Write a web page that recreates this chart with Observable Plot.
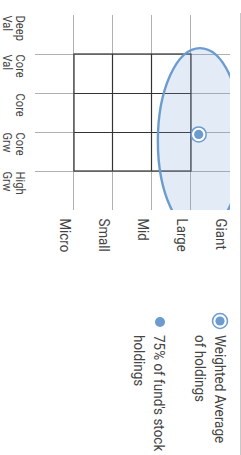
<!DOCTYPE html>
<html>
<head>
<meta charset="utf-8">
<script src="https://cdn.jsdelivr.net/npm/d3@7"></script>
<script src="https://cdn.jsdelivr.net/npm/@observablehq/plot@0.6"></script>
<style>
  html, body { margin: 0; padding: 0; background: #fff; }
  #page { position: relative; width: 241px; height: 455px; overflow: hidden; }
  #rot { position: absolute; left: 0; top: 0; width: 455px; height: 241px;
         transform-origin: 0 0; transform: translate(241px, 0) rotate(90deg);
         font-family: Roboto, sans-serif; color: #444; }
  #topline { position: absolute; left: 13px; top: 0; width: 442px; height: 1px; background: #c8c8c8; }
  #chart { position: absolute; left: 0; top: 0; }
  .item { position: absolute; left: 312px; width: 140px; }
  .item svg { position: absolute; left: 0; top: 0; overflow: visible; }
  .item .lbl { position: absolute; left: 23px; top: 0; font-size: 15.5px; line-height: 20px; white-space: pre; color: #444;
               transform-origin: 0 0; transform: scale(0.87, 1); }
</style>
</head>
<body>
<div id="page"><div id="rot"><div id="topline"></div><div id="chart"></div><div id="legend"></div></div></div>
<script>
// Style-box axes
const styleCols = ["Deep\nVal", "Core\nVal", "Core", "Core\nGrw", "High\nGrw"];
const styleColStarts = [-100, 0, 100, 200, 300];
const sizeRows = ["Giant", "Large", "Mid", "Small", "Micro"];
const sizeRowLines = [400, 300, 200, 100, 0];
const gridLines = [0, 100, 200, 300];
const innerLines = [100, 200];
const boxRange = [0, 300];
const scoreDomain = [-100, 400];

// Fund values
const weightedAvg = [{style: 205, size: 321}];
const holdingsZone = [{style: 223, size: 323, styleRadius: 238, sizeRadius: 108}];

// Legend
const legendLabels = ["Weighted Average\nof holdings", "75% of fund's stock\nholdings"];

const blue = "#6c9bd0";
const colLabel = new Map(styleColStarts.map((d, i) => [d, styleCols[i]]));
const rowLabel = new Map(sizeRowLines.map((d, i) => [d, sizeRows[i]]));

function zoneMark(index, scales, values, dims) {
  const {x, y} = scales;
  const g = d3.create("svg:g");
  const id = "zone-clip";
  g.append("clipPath").attr("id", id).append("rect")
    .attr("x", dims.marginLeft).attr("y", dims.marginTop)
    .attr("width", dims.width - dims.marginLeft - dims.marginRight)
    .attr("height", dims.height - dims.marginTop - dims.marginBottom);
  for (const z of holdingsZone) {
    g.append("ellipse")
      .attr("clip-path", `url(#${id})`)
      .attr("cx", x(z.style)).attr("cy", y(z.size))
      .attr("rx", Math.abs(x(z.style + z.styleRadius) - x(z.style)))
      .attr("ry", Math.abs(y(z.size + z.sizeRadius) - y(z.size)))
      .attr("fill", blue).attr("fill-opacity", 0.2)
      .attr("stroke", blue).attr("stroke-width", 2.4);
  }
  return g.node();
}

const chart = Plot.plot({
  width: 300, height: 241,
  marginLeft: 15, marginRight: 90, marginTop: 11, marginBottom: 35,
  style: {fontFamily: "Roboto, sans-serif", color: "#444", background: "transparent"},
  x: {domain: scoreDomain, axis: null},
  y: {domain: scoreDomain, axis: null},
  marks: [
    Plot.ruleX(gridLines, {stroke: "#b0b0b0", strokeWidth: 1}),
    Plot.ruleY(gridLines, {stroke: "#b0b0b0", strokeWidth: 1}),
    Plot.ruleX(innerLines, {y1: boxRange[0], y2: boxRange[1], stroke: "#333", strokeWidth: 1.2}),
    Plot.ruleY(innerLines, {x1: boxRange[0], x2: boxRange[1], stroke: "#333", strokeWidth: 1.2}),
    Plot.rect([boxRange], {x1: d => d[0], x2: d => d[1], y1: d => d[0], y2: d => d[1], fill: "none", stroke: "#333", strokeWidth: 1.2}),
    zoneMark,
    Plot.dot(weightedAvg, {x: "style", y: "size", r: 7.5, fill: "white", stroke: blue, strokeWidth: 1.5}),
    Plot.dot(weightedAvg, {x: "style", y: "size", r: 4.6, fill: blue, stroke: "none"}),
    Plot.axisX(styleColStarts, {anchor: "bottom", tickSize: 0, tickPadding: 9, textAnchor: "start", lineAnchor: "top",
      lineHeight: 1, fontSize: 13, fill: "#444", tickFormat: d => colLabel.get(d), label: null}),
    Plot.axisY(sizeRowLines, {anchor: "right", tickSize: 0, tickPadding: 8, textAnchor: "start", lineAnchor: "top",
      dy: 2, fontSize: 15.5, fill: "#444", tickFormat: d => rowLabel.get(d), label: null})
  ]
});
// condensed look for tick labels
chart.querySelectorAll('g[aria-label$="tick label"] text').forEach(t => {
  const tr = t.getAttribute("transform") || "";
  t.setAttribute("transform", tr + " scale(0.86,1)");
});
document.getElementById("chart").appendChild(chart);

// Legend
const legend = d3.select("#legend");
const tops = [11, 72];
legendLabels.forEach((txt, i) => {
  const item = legend.append("div").attr("class", "item").style("top", tops[i] + "px");
  const svg = item.append("svg").attr("width", 20).attr("height", 20);
  if (i === 0) {
    svg.append("circle").attr("cx", 9).attr("cy", 10).attr("r", 7.5).attr("fill", "white").attr("stroke", blue).attr("stroke-width", 1.5);
    svg.append("circle").attr("cx", 9).attr("cy", 10).attr("r", 4.6).attr("fill", blue);
  } else {
    svg.append("circle").attr("cx", 10).attr("cy", 9).attr("r", 5).attr("fill", blue);
  }
  item.append("div").attr("class", "lbl").text(txt);
});
</script>
</body>
</html>
